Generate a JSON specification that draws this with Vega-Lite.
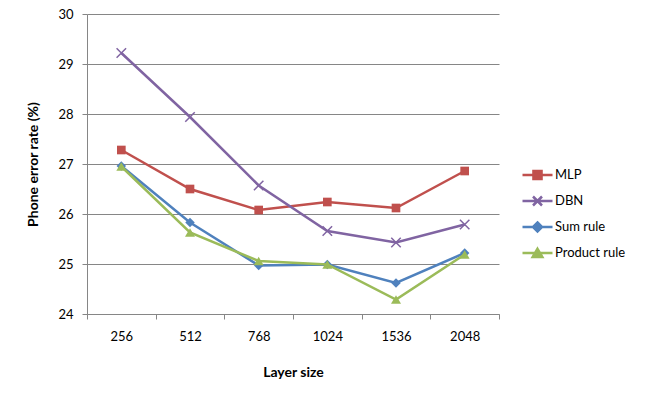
{
  "$schema": "https://vega.github.io/schema/vega-lite/v6.json",
  "width": 412,
  "height": 300,
  "autosize": {"type": "none"},
  "padding": {"left": 87, "top": 14, "right": 157, "bottom": 81},
  "background": "white",
  "config": {
    "font": "Lato",
    "view": {"stroke": null},
    "axis": {
      "labelFont": "Lato",
      "labelFontSize": 13,
      "labelColor": "#000000",
      "titleFont": "Lato",
      "titleFontSize": 14,
      "titleFontWeight": "bold",
      "titleColor": "#000000",
      "domainColor": "#868686",
      "tickColor": "#868686",
      "gridColor": "#868686",
      "domainWidth": 1,
      "tickWidth": 1,
      "gridWidth": 1
    },
    "legend": {"labelFont": "Lato", "labelFontSize": 13, "labelColor": "#000000"}
  },
  "data": {
    "values": [
      {"size": "256", "series": "MLP", "value": 27.28},
      {"size": "512", "series": "MLP", "value": 26.50},
      {"size": "768", "series": "MLP", "value": 26.08},
      {"size": "1024", "series": "MLP", "value": 26.24},
      {"size": "1536", "series": "MLP", "value": 26.12},
      {"size": "2048", "series": "MLP", "value": 26.86},
      {"size": "256", "series": "DBN", "value": 29.22},
      {"size": "512", "series": "DBN", "value": 27.94},
      {"size": "768", "series": "DBN", "value": 26.57},
      {"size": "1024", "series": "DBN", "value": 25.66},
      {"size": "1536", "series": "DBN", "value": 25.43},
      {"size": "2048", "series": "DBN", "value": 25.79},
      {"size": "256", "series": "Sum rule", "value": 26.96},
      {"size": "512", "series": "Sum rule", "value": 25.83},
      {"size": "768", "series": "Sum rule", "value": 24.97},
      {"size": "1024", "series": "Sum rule", "value": 24.99},
      {"size": "1536", "series": "Sum rule", "value": 24.62},
      {"size": "2048", "series": "Sum rule", "value": 25.22},
      {"size": "256", "series": "Product rule", "value": 26.95},
      {"size": "512", "series": "Product rule", "value": 25.63},
      {"size": "768", "series": "Product rule", "value": 25.06},
      {"size": "1024", "series": "Product rule", "value": 24.99},
      {"size": "1536", "series": "Product rule", "value": 24.29},
      {"size": "2048", "series": "Product rule", "value": 25.19}
    ]
  },
  "encoding": {
    "x": {
      "field": "size",
      "type": "ordinal",
      "sort": ["256", "512", "768", "1024", "1536", "2048"],
      "scale": {"type": "band", "paddingInner": 0, "paddingOuter": 0},
      "axis": {
        "title": "Layer size",
        "labelAngle": 0,
        "tickBand": "extent",
        "tickSize": 5,
        "labelPadding": 11,
        "titlePadding": 22,
        "grid": false
      }
    },
    "y": {
      "field": "value",
      "type": "quantitative",
      "scale": {"domain": [24, 30], "zero": false, "nice": false},
      "axis": {
        "title": "Phone error rate (%)",
        "values": [24, 25, 26, 27, 28, 29, 30],
        "tickSize": 5,
        "labelPadding": 9,
        "titlePadding": 17,
        "grid": true
      }
    }
  },
  "layer": [
    {
      "mark": {"type": "point", "filled": true, "size": 0, "opacity": 0},
      "encoding": {
        "color": {
          "field": "series",
          "type": "nominal",
          "title": null,
          "scale": {
            "domain": ["MLP", "DBN", "Sum rule", "Product rule"],
            "range": ["#C0504D", "#8064A2", "#4F81BD", "#9BBB59"]
          },
          "legend": {
            "orient": "none",
            "legendX": 434,
            "legendY": 150,
            "padding": 0,
            "symbolSize": 900,
            "clipHeight": 22,
            "rowPadding": 4,
            "labelOffset": 1,
            "encode": {
              "symbols": {
                "update": {
                  "stroke": {"scale": "color", "field": "value"},
                  "strokeWidth": {"value": 2.5},
                  "size": {"value": 900},
                  "opacity": {"value": 1}
                }
              }
            }
          }
        },
        "shape": {
          "field": "series",
          "type": "nominal",
          "title": null,
          "scale": {
            "domain": ["MLP", "DBN", "Sum rule", "Product rule"],
            "range": [
              "M-1,0H1M-0.27,-0.27H0.27V0.27H-0.27Z",
              "M-1,0H1M-0.3,-0.3L0.3,0.3M-0.3,0.3L0.3,-0.3",
              "M-1,0H1M0,-0.3L0.3,0L0,0.3L-0.3,0Z",
              "M-1,0H1M0,-0.28L0.32,0.26H-0.32Z"
            ]
          }
        }
      }
    },
    {
      "transform": [{"filter": "datum.series === 'MLP'"}],
      "mark": {"type": "line", "strokeWidth": 2.5, "color": "#C0504D",
        "point": {"shape": "square", "filled": true, "size": 75, "color": "#C0504D"}}
    },
    {
      "transform": [{"filter": "datum.series === 'DBN'"}],
      "mark": {"type": "line", "strokeWidth": 2.5, "color": "#8064A2",
        "point": {"shape": "M-1,-1L1,1M-1,1L1,-1", "filled": false, "size": 90, "strokeWidth": 1.5, "color": "#8064A2"}}
    },
    {
      "transform": [{"filter": "datum.series === 'Sum rule'"}],
      "mark": {"type": "line", "strokeWidth": 2.5, "color": "#4F81BD",
        "point": {"shape": "diamond", "filled": true, "size": 90, "color": "#4F81BD"}}
    },
    {
      "transform": [{"filter": "datum.series === 'Product rule'"}],
      "mark": {"type": "line", "strokeWidth": 2.5, "color": "#9BBB59",
        "point": {"shape": "triangle-up", "filled": true, "size": 100, "color": "#9BBB59"}}
    }
  ]
}
